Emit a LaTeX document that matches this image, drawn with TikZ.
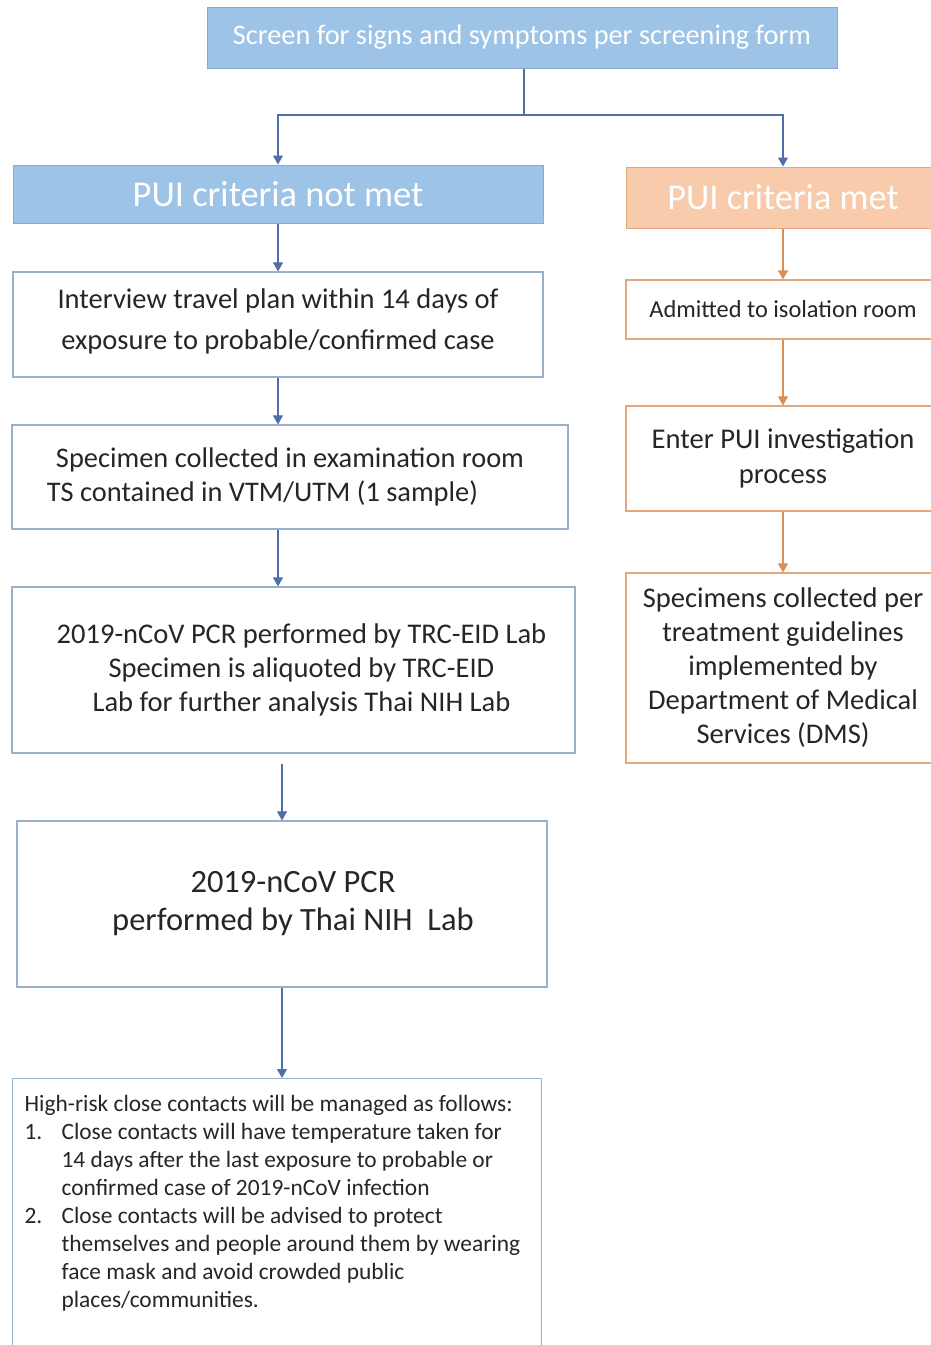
\documentclass[tikz,border=0pt]{standalone}
\usepackage{fontspec}
\setmainfont{Carlito}
\usetikzlibrary{positioning}
\usetikzlibrary{arrows.meta}
\definecolor{headblue}{HTML}{9DC3E6}
\definecolor{headblueline}{HTML}{84AAD6}
\definecolor{arrowblue}{HTML}{4F6FA8}
\definecolor{boxline}{HTML}{9AAFC9}
\definecolor{headorange}{HTML}{F8CBAD}
\definecolor{orangeline}{HTML}{E5A679}
\definecolor{arroworange}{HTML}{D98F55}
\newcommand{\boxfont}[2]{\fontsize{#1pt}{#2pt}\selectfont}
\tikzset{
head_blue/.style={rectangle, fill=headblue, draw=headblueline, line width=1pt, text=white, inner sep=0pt},
head_orange/.style={rectangle, fill=headorange, draw=orangeline, line width=1pt, text=white, inner sep=0pt},
blue_box/.style={rectangle, draw=boxline, line width=1.2pt, fill=white, text=black!85, align=center, inner sep=0pt},
orange_box/.style={rectangle, draw=orangeline, line width=1.2pt, fill=white, text=black!85, align=center, inner sep=0pt},
blue_arrow/.style={draw=arrowblue, line width=1.1pt, -{Triangle[width=10pt,length=9pt]}},
orange_arrow/.style={draw=arroworange, line width=1.1pt, -{Triangle[width=10pt,length=9pt]}}
}

\begin{document}
\begin{tikzpicture}[x=1pt, y=-1pt]
    \useasboundingbox (0,0) rectangle (930,1345);
    % headers
    \node[head_blue, minimum width=630pt, minimum height=61pt, font=\boxfont{28.3}{32}] (screen) at (522,37.5) {Screen for signs and symptoms per screening form};
    \node[head_blue, minimum width=530pt, minimum height=58pt, font=\boxfont{36.4}{40}] (not_met) at (278,194) {PUI criteria not met};
    \node[head_orange, minimum width=314pt, minimum height=61pt, font=\boxfont{36.3}{40}] (met) at (783,197.5) {PUI criteria met};
    \coordinate (split) at (524,115);
    % left column
    \node[blue_box, minimum width=530pt, minimum height=105pt, font=\boxfont{28.5}{41}] (interview) at (278,324.5) {Interview travel plan within 14 days of\\exposure to probable/confirmed case\\[-31pt]};
    \node[blue_box, minimum width=556pt, minimum height=104pt, font=\boxfont{28.4}{34}] (specimen) at (290,477) {Specimen collected in examination room\\\hspace*{-55pt}TS contained in VTM/UTM (1 sample)};
    \node[blue_box, minimum width=563pt, minimum height=166pt, font=\boxfont{28.5}{34}] (pcr) at (293.5,670) {\hspace*{16pt}2019-nCoV PCR performed by TRC-EID Lab\\\hspace*{16pt}Specimen is aliquoted by TRC-EID\\\hspace*{16pt}Lab for further analysis Thai NIH Lab};
    \node[blue_box, minimum width=530pt, minimum height=166pt, font=\boxfont{32.5}{38}] (thai) at (282,904) {\hspace*{22pt}2019-nCoV PCR\\\hspace*{22pt}performed by Thai NIH\ \ Lab};
    \node[blue_box, anchor=north west, align=left, font=\boxfont{23.4}{28}] (contacts) at (12,1078) {\begin{minipage}[t][275pt][t]{529pt}
        \vspace{13pt}\hspace*{12pt}\begin{tabular}[t]{@{}p{37pt}@{}l@{}}
        \multicolumn{2}{@{}l@{}}{High-risk close contacts will be managed as follows:}\\
        1. & Close contacts will have temperature taken for\\
           & 14 days after the last exposure to probable or\\
           & confirmed case of 2019-nCoV infection\\
        2. & Close contacts will be advised to protect\\
           & themselves and people around them by wearing\\
           & face mask and avoid crowded public\\
           & places/communities.
        \end{tabular}
    \end{minipage}};
    % right column
    \node[orange_box, minimum width=314pt, minimum height=59pt, font=\boxfont{24.4}{28}] (admitted) at (783,309.5) {Admitted to isolation room};
    \node[orange_box, minimum width=314pt, minimum height=105pt, font=\boxfont{28.6}{35}] (enter) at (783,458.5) {Enter PUI investigation\\process};
    \node[orange_box, minimum width=314pt, minimum height=190pt, font=\boxfont{28.5}{34}] (specimens) at (783,668) {Specimens collected per\\treatment guidelines\\implemented by\\Department of Medical\\Services (DMS)};
    % connectors
    \draw[draw=arrowblue, line width=1.1pt] (screen.south -| split) -- (split);
    \draw[blue_arrow] (split) -| (not_met.north);
    \draw[blue_arrow] (split) -| (met.north);
    \draw[blue_arrow] (not_met.south) -- (interview.north);
    \draw[blue_arrow] (interview.south) -- (interview.south |- specimen.north);
    \draw[blue_arrow] (interview.south |- specimen.south) -- (interview.south |- pcr.north);
    \draw[blue_arrow, shorten <=10pt] (pcr.south -| thai.north) -- (thai.north);
    \draw[blue_arrow] (thai.south) -- (thai.south |- contacts.north);
    \draw[orange_arrow] (met.south) -- (admitted.north);
    \draw[orange_arrow] (admitted.south) -- (enter.north);
    \draw[orange_arrow] (enter.south) -- (specimens.north);
\end{tikzpicture}
\end{document}
